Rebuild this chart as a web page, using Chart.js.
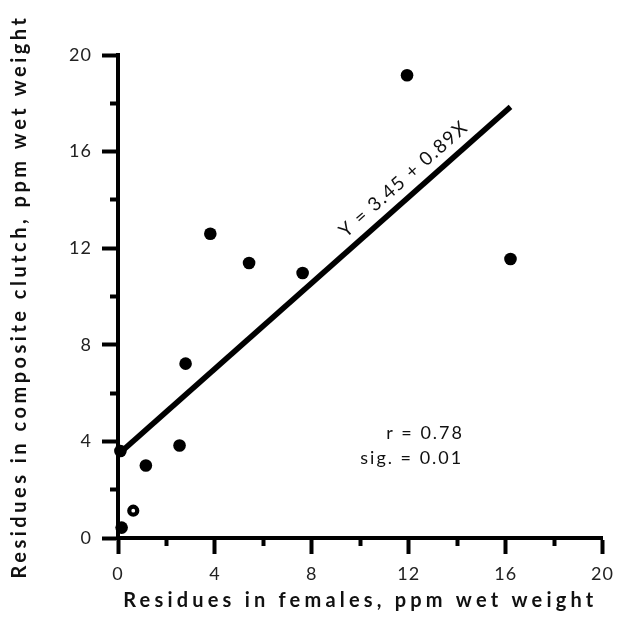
<!DOCTYPE html>
<html>
<head>
<meta charset="utf-8">
<script src="https://cdn.jsdelivr.net/npm/chart.js@4/dist/chart.umd.min.js"></script>
<style>
  html, body { margin: 0; padding: 0; background: #ffffff; }
  canvas { display: block; }
</style>
</head>
<body>
<canvas id="chart" width="622" height="640"></canvas>
<script>
// ---- data ----
const femaleResidues = [0.15, 0.1, 1.15, 2.54, 2.79, 3.81, 5.41, 7.62, 11.93, 16.2];
const clutchResidues = [0.43, 3.6, 3.0, 3.83, 7.22, 12.6, 11.39, 10.97, 19.16, 11.55];
const openFemale = [0.63];
const openClutch = [1.13];
const fitX = [0, 16.2];
const fitY = [3.45, 17.85];
const majorTicks = [0, 4, 8, 12, 16, 20];
const minorTicks = [2, 6, 10, 14, 18];
const xTitle = 'Residues in females, ppm wet weight';
const yTitle = 'Residues in composite clutch, ppm wet weight';
const equationText = 'Y = 3.45 + 0.89X';
const statLines = ['r = 0.78', 'sig. = 0.01'];

// ---- annotation placement (data units) ----
const equationAnchorX = 12.25;
const statPos = [{ x: 11.07, y: 4.11 }, { x: 10.0, y: 3.08 }];

const FONT = 'Lato, "Open Sans", "DejaVu Sans", sans-serif';
const INK = '#000000';

const toPts = (xs, ys) => xs.map((x, i) => ({ x, y: ys[i] }));

const titleSpacing = { x: '4.2px', y: '3.5px' };

const spacingPlugin = {
  id: 'spacing',
  beforeDraw(chart) {
    for (const id of ['x', 'y']) {
      const s = chart.scales[id];
      if (s && !s._wrappedSpacing) {
        const origTitle = s.drawTitle;
        s.drawTitle = function () {
          const c = this.ctx; c.save(); c.letterSpacing = titleSpacing[id]; origTitle.call(this); c.restore();
        };
        const origLabels = s.drawLabels;
        s.drawLabels = function (area) {
          const c = this.ctx; c.save(); c.letterSpacing = '1px'; origLabels.call(this, area); c.restore();
        };
        s._wrappedSpacing = true;
      }
    }
  }
};

const annotationPlugin = {
  id: 'annotations',
  afterDatasetsDraw(chart) {
    const { ctx, scales: { x, y } } = chart;
    const p0 = { x: x.getPixelForValue(fitX[0]), y: y.getPixelForValue(fitY[0]) };
    const p1 = { x: x.getPixelForValue(fitX[1]), y: y.getPixelForValue(fitY[1]) };
    const angle = Math.atan2(p1.y - p0.y, p1.x - p0.x);
    const t = (equationAnchorX - fitX[0]) / (fitX[1] - fitX[0]);
    const ax = p0.x + (p1.x - p0.x) * t;
    const ay = p0.y + (p1.y - p0.y) * t;
    ctx.save();
    ctx.translate(ax, ay);
    ctx.rotate(angle);
    ctx.font = '19px ' + FONT;
    ctx.fillStyle = '#111';
    ctx.letterSpacing = '1.5px';
    ctx.textAlign = 'center';
    ctx.textBaseline = 'middle';
    ctx.fillText(equationText, 0, -17);
    ctx.restore();

    ctx.save();
    ctx.font = '18px ' + FONT;
    ctx.fillStyle = '#111';
    ctx.letterSpacing = '2px';
    ctx.textAlign = 'left';
    ctx.textBaseline = 'alphabetic';
    statLines.forEach((txt, i) => {
      ctx.fillText(txt, x.getPixelForValue(statPos[i].x), y.getPixelForValue(statPos[i].y));
    });
    ctx.restore();
  }
};

const setTicks = (vals) => (scale) => { scale.ticks = vals.map(v => ({ value: v })); };

new Chart(document.getElementById('chart'), {
  type: 'scatter',
  data: {
    datasets: [
      {
        label: 'fit',
        data: toPts(fitX, fitY),
        showLine: true,
        borderColor: INK,
        borderWidth: 5.5,
        borderCapStyle: 'butt',
        pointRadius: 0,
        pointHoverRadius: 0,
        fill: false,
        clip: false
      },
      {
        label: 'samples',
        data: toPts(femaleResidues, clutchResidues),
        pointRadius: 6.3,
        pointBackgroundColor: INK,
        pointBorderWidth: 0,
        showLine: false,
        clip: false
      },
      {
        label: 'open',
        data: toPts(openFemale, openClutch),
        pointRadius: 4,
        pointBackgroundColor: '#ffffff',
        pointBorderColor: INK,
        pointBorderWidth: 4.2,
        showLine: false,
        clip: false
      }
    ]
  },
  options: {
    responsive: false,
    animation: false,
    devicePixelRatio: 1,
    layout: { padding: { left: 0, right: 16, top: 55, bottom: 0 } },
    plugins: { legend: { display: false }, tooltip: { enabled: false } },
    events: [],
    scales: {
      x: {
        type: 'linear', position: 'bottom', weight: 1,
        min: 0, max: 20,
        afterBuildTicks: setTicks(majorTicks),
        afterFit: (s) => { s.height = 102; },
        grid: { drawOnChartArea: false, drawTicks: true, tickLength: 16, tickWidth: 4, tickColor: INK },
        border: { display: true, width: 4, color: INK },
        ticks: { color: '#222', font: { family: FONT, size: 18 }, padding: 9, maxRotation: 0, autoSkip: false },
        title: { display: true, text: xTitle, color: '#111', font: { family: FONT, size: 20, weight: 'bold' }, padding: { top: 0, bottom: 27 } }
      },
      x2: {
        type: 'linear', axis: 'x', position: 'bottom', weight: 0,
        min: 0, max: 20,
        afterBuildTicks: setTicks(minorTicks),
        afterFit: (s) => { s.height = 0; },
        grid: { drawOnChartArea: false, drawTicks: true, tickLength: 8, tickWidth: 4, tickColor: INK },
        border: { display: false },
        ticks: { display: false }
      },
      y: {
        type: 'linear', position: 'left', weight: 1,
        min: 0, max: 20,
        afterBuildTicks: setTicks(majorTicks),
        afterFit: (s) => { s.width = 118; },
        grid: { drawOnChartArea: false, drawTicks: true, tickLength: 16, tickWidth: 4, tickColor: INK },
        border: { display: true, width: 4, color: INK },
        ticks: { color: '#222', font: { family: FONT, size: 18 }, padding: 10, autoSkip: false },
        title: { display: true, text: yTitle, color: '#111', font: { family: FONT, size: 20, weight: 'bold' }, padding: { top: 8, bottom: 0 } }
      },
      y2: {
        type: 'linear', axis: 'y', position: 'left', weight: 0,
        min: 0, max: 20,
        afterBuildTicks: setTicks(minorTicks),
        afterFit: (s) => { s.width = 0; },
        grid: { drawOnChartArea: false, drawTicks: true, tickLength: 8, tickWidth: 4, tickColor: INK },
        border: { display: false },
        ticks: { display: false }
      }
    }
  },
  plugins: [spacingPlugin, annotationPlugin]
});
</script>
</body>
</html>
